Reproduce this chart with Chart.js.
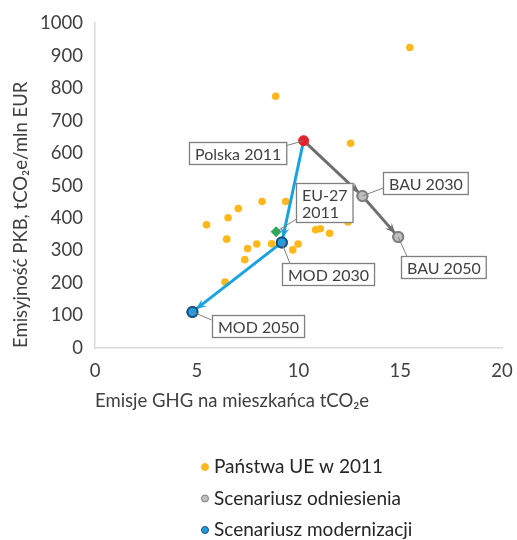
<!DOCTYPE html>
<html><head><meta charset="utf-8">
<script src="https://cdn.jsdelivr.net/npm/chart.js@4.4.1/dist/chart.umd.min.js"></script>
<style>html,body{margin:0;padding:0;background:#fff}#wrap{width:517px;height:540px;position:relative}</style>
</head><body><div id="wrap"><canvas id="c" width="517" height="540"></canvas></div>
<script>
// ---- data ----
const countryX = [5.48, 6.54, 7.04, 8.21, 9.37, 12.30, 12.43, 10.84, 11.07, 11.53, 6.47, 7.95, 7.50, 8.68, 9.98, 9.72, 7.36, 6.39, 8.88, 15.47, 12.56];
const countryY = [379, 401, 429, 451, 451, 432, 388, 364, 367, 353, 335, 320, 306, 321, 320, 302, 272, 203, 775, 925, 630];
const polandX = [10.25];
const polandY = [638];
const bauX = [10.25, 13.14, 14.90];
const bauY = [638, 468, 342];
const modX = [10.25, 9.18, 4.79];
const modY = [638, 325, 111];
const eu27X = [8.90];
const eu27Y = [358];
const xTicks = [0, 5, 10, 15, 20];
const yTicks = [0, 100, 200, 300, 400, 500, 600, 700, 800, 900, 1000];
const seriesNames = ['Państwa UE w 2011', 'Scenariusz odniesienia', 'Scenariusz modernizacji'];
const polandLabel = ['Polska 2011'];
const bauLabels = [null, ['BAU 2030'], ['BAU 2050']];
const modLabels = [null, ['MOD 2030'], ['MOD 2050']];
const eu27Label = ['EU-27', '2011'];
const xTitle = 'Emisje GHG na mieszkańca tCO₂e';
const yTitle = 'Emisyjność PKB, tCO₂e/mln EUR';

const pts = (xs, ys) => xs.map((x, i) => ({x, y: ys[i]}));
const FONT = 'Lato, "Open Sans", sans-serif';

// callout layout (box offset from point, leader end offset from point)
const calloutLayout = {
  polska: [{box: [-115, 1], lead: [-21, 6]}],
  bau: [null, {box: [21, -24], lead: [21, -8]}, {box: [2.5, 19.5], lead: [9, 20]}],
  mod: [null, {box: [0, 21], lead: [8, 21]}, {box: [19.5, 3], lead: [19, 8]}],
  eu: [{box: [20, -49], lead: [21, -13]}]
};

const arrowPlugin = {
  id: 'arrows',
  afterDatasetsDraw(chart) {
    const ctx = chart.ctx;
    chart.data.datasets.forEach((ds, di) => {
      if (!ds.arrows) return;
      const meta = chart.getDatasetMeta(di);
      for (let i = 1; i < meta.data.length; i++) {
        const a = meta.data[i - 1], b = meta.data[i];
        const ang = Math.atan2(b.y - a.y, b.x - a.x);
        const back = 5;
        const tx = b.x - Math.cos(ang) * back, ty = b.y - Math.sin(ang) * back;
        const L = 10, W = 4.5;
        ctx.save();
        ctx.fillStyle = ds.borderColor;
        ctx.beginPath();
        ctx.moveTo(tx, ty);
        ctx.lineTo(tx - Math.cos(ang) * L + Math.sin(ang) * W, ty - Math.sin(ang) * L - Math.cos(ang) * W);
        ctx.lineTo(tx - Math.cos(ang) * L * 0.6, ty - Math.sin(ang) * L * 0.6);
        ctx.lineTo(tx - Math.cos(ang) * L - Math.sin(ang) * W, ty - Math.sin(ang) * L + Math.cos(ang) * W);
        ctx.closePath();
        ctx.fill();
        ctx.restore();
      }
      meta.data.forEach(el => el.draw(ctx, chart.chartArea));
    });
  }
};

const calloutPlugin = {
  id: 'callouts',
  afterDraw(chart) {
    const ctx = chart.ctx;
    const draw = (el, texts, lay) => {
      if (!texts || !lay) return;
      const px = el.x, py = el.y;
      ctx.save();
      ctx.font = '16px ' + FONT;
      const w = Math.max(...texts.map(t => ctx.measureText(t).width)) + 11;
      const h = 5 + 17 * texts.length;
      const bx = Math.round(px + lay.box[0]) + 0.5, by = Math.round(py + lay.box[1]) + 0.5;
      ctx.strokeStyle = '#7f7f7f';
      ctx.lineWidth = 1;
      ctx.beginPath();
      ctx.moveTo(px, py);
      ctx.lineTo(px + lay.lead[0], py + lay.lead[1]);
      ctx.stroke();
      ctx.fillStyle = '#ffffff';
      ctx.fillRect(bx, by, w, h);
      ctx.lineWidth = 1.3;
      ctx.strokeRect(bx, by, w, h);
      ctx.fillStyle = '#404040';
      ctx.textBaseline = 'middle';
      texts.forEach((t, i) => ctx.fillText(t, bx + 5.5, by + 2.5 + 8.5 + 17 * i + 1));
      ctx.restore();
    };
    const m = id => chart.getDatasetMeta(chart.data.datasets.findIndex(d => d.id === id));
    draw(m('polska').data[0], polandLabel, calloutLayout.polska[0]);
    m('bau').data.forEach((el, i) => draw(el, bauLabels[i], calloutLayout.bau[i]));
    m('mod').data.forEach((el, i) => draw(el, modLabels[i], calloutLayout.mod[i]));
    draw(m('eu').data[0], eu27Label, calloutLayout.eu[0]);
  }
};

const legendPlugin = {
  id: 'customLegend',
  afterDraw(chart) {
    const ctx = chart.ctx;
    const items = [
      {text: seriesNames[0], fill: '#FFB81C', stroke: '#FFB81C'},
      {text: seriesNames[1], fill: '#BFBFBF', stroke: '#7F7F7F'},
      {text: seriesNames[2], fill: '#1E9FE0', stroke: '#1F4E79'}
    ];
    ctx.save();
    ctx.font = '19px ' + FONT;
    ctx.textBaseline = 'middle';
    items.forEach((it, i) => {
      const y = 467 + i * 31.5;
      ctx.beginPath();
      ctx.arc(205, y, 3.5, 0, Math.PI * 2);
      ctx.fillStyle = it.fill;
      ctx.fill();
      ctx.lineWidth = 1;
      ctx.strokeStyle = it.stroke;
      ctx.stroke();
      ctx.fillStyle = '#262626';
      ctx.fillText(it.text, 214, y);
    });
    ctx.restore();
  }
};

new Chart(document.getElementById('c'), {
  type: 'scatter',
  data: {
    datasets: [
      {id: 'polska', label: polandLabel[0], data: pts(polandX, polandY), order: 0,
       pointRadius: 5, pointBackgroundColor: '#E8202A', pointBorderColor: '#E8202A', pointBorderWidth: 1},
      {id: 'mod', label: seriesNames[2], data: pts(modX, modY), order: 1, showLine: true, arrows: true,
       borderColor: '#1AA3E0', borderWidth: 3, pointRadius: [0, 5, 5],
       pointBackgroundColor: '#1E9FE0', pointBorderColor: '#1F4E79', pointBorderWidth: 2},
      {id: 'bau', label: seriesNames[1], data: pts(bauX, bauY), order: 2, showLine: true, arrows: true,
       borderColor: '#6E6E6E', borderWidth: 3, pointRadius: [0, 5, 5],
       pointBackgroundColor: '#BFBFBF', pointBorderColor: '#7F7F7F', pointBorderWidth: 2},
      {id: 'eu', label: 'EU-27 2011', data: pts(eu27X, eu27Y), order: 3,
       pointStyle: 'rectRot', pointRadius: 5.5, pointBackgroundColor: '#2EAA5A', pointBorderColor: '#2EAA5A', pointBorderWidth: 0},
      {id: 'countries', label: seriesNames[0], data: pts(countryX, countryY), order: 4,
       pointRadius: 3.8, pointBackgroundColor: '#FFB81C', pointBorderColor: '#FFB81C', pointBorderWidth: 0}
    ]
  },
  options: {
    responsive: false,
    animation: false,
    events: [],
    layout: {padding: {left: 0, top: 23, right: 15, bottom: 128}},
    plugins: {legend: {display: false}, tooltip: {enabled: false}},
    elements: {line: {tension: 0}},
    scales: {
      x: {
        type: 'linear', min: 0, max: 20,
        afterBuildTicks: s => { s.ticks = xTicks.map(v => ({value: v})); },
        afterFit: s => { s.height = 64; s.paddingLeft = 0; s.paddingRight = 0; },
        grid: {display: false, drawTicks: false},
        border: {display: true, color: '#D9D9D9', width: 1.5},
        ticks: {font: {family: FONT, size: 18.5}, color: '#404040', padding: 12, callback: v => String(v)},
        title: {display: true, align: 'start', text: xTitle, font: {family: FONT, size: 18.5}, color: '#404040', padding: 0}
      },
      y: {
        type: 'linear', min: 0, max: 1000,
        afterBuildTicks: s => { s.ticks = yTicks.map(v => ({value: v})); },
        afterFit: s => { s.width = 95; },
        grid: {display: false, drawTicks: false},
        border: {display: true, color: '#D9D9D9', width: 1.5},
        ticks: {font: {family: FONT, size: 18.5}, color: '#404040', padding: 12, callback: v => String(v)},
        title: {display: true, align: 'start', text: yTitle, font: {family: FONT, size: 18.5}, color: '#404040', padding: {top: 10, bottom: 0}}
      }
    }
  },
  plugins: [arrowPlugin, calloutPlugin, legendPlugin]
});
</script></body></html>
